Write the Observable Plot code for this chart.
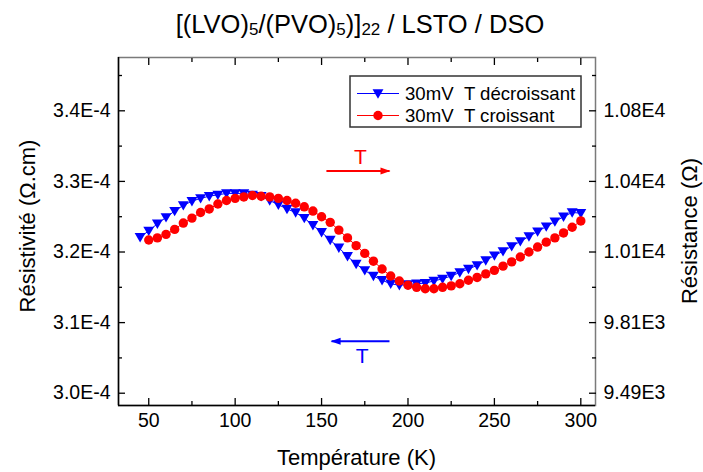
<!DOCTYPE html>
<html><head><meta charset="utf-8">
<script src="https://cdn.jsdelivr.net/npm/d3@7"></script>
<script src="https://cdn.jsdelivr.net/npm/@observablehq/plot@0.6"></script>
<style>
html,body{margin:0;padding:0;background:#fff;}
#chart{width:703px;height:472px;}
svg text{font-family:"Liberation Sans", Arial, sans-serif;}
</style></head><body><div id="chart"></div>
<script>
// ---- data (resistivity in units of 1E-4 Ω.cm) ----
const tempDown = [45,50,55,60,65,70,75,80,85,90,95,100,105,110,115,120,125,130,135,140,145,150,155,160,165,170,175,180,185,190,195,200,205,210,215,220,225,230,235,240,245,250,255,260,265,270,275,280,285,290,295,300];
const rhoDown = [3.221,3.230,3.240,3.249,3.258,3.266,3.272,3.276,3.279,3.281,3.283,3.283,3.283,3.281,3.279,3.273,3.267,3.261,3.256,3.248,3.238,3.228,3.217,3.206,3.194,3.183,3.174,3.166,3.160,3.155,3.153,3.154,3.155,3.156,3.159,3.162,3.166,3.171,3.176,3.181,3.188,3.195,3.201,3.208,3.215,3.222,3.229,3.236,3.243,3.250,3.256,3.255];
const tempUp = [50,55,60,65,70,75,80,85,90,95,100,105,110,115,120,125,130,135,140,145,150,155,160,165,170,175,180,185,190,195,200,205,210,215,220,225,230,235,240,245,250,255,260,265,270,275,280,285,290,295,300];
const rhoUp = [3.217,3.220,3.225,3.232,3.241,3.248,3.256,3.261,3.268,3.273,3.276,3.278,3.280,3.279,3.278,3.276,3.273,3.269,3.264,3.258,3.250,3.242,3.231,3.220,3.209,3.198,3.187,3.176,3.166,3.159,3.153,3.150,3.148,3.148,3.150,3.152,3.155,3.160,3.164,3.169,3.174,3.180,3.186,3.193,3.200,3.207,3.214,3.220,3.227,3.235,3.244];
const seriesNames = ["30mV\u00a0\u00a0T décroissant", "30mV\u00a0\u00a0T croissant"];
const seriesColors = ["#0000ff", "#ff0000"];
const xMajor = [50,100,150,200,250,300];
const xMinor = [75,125,175,225,275];
const yMajor = [3.0,3.1,3.2,3.3,3.4];
const yMinor = [3.05,3.15,3.25,3.35,3.45];
const rightLabels = ["9.49E3","9.81E3","1.01E4","1.04E4","1.08E4"];
const arrowStart = [152.8, 189.3];
const arrowEnd = [189.3, 155.8];
const arrowRho = [3.3146, 3.0737];
const arrowLabelT = [172.4, 173.5];
const arrowLabelRho = [3.3348, 3.0527];

const W = 703, H = 472;
const xDomain = [32.5, 308.5];
const yDomain = [2.9826, 3.4755];

const down = tempDown.map((t, i) => ({t, r: rhoDown[i]}));
const up = tempUp.map((t, i) => ({t, r: rhoUp[i]}));
const arrows = arrowStart.map((a, i) => ({x1: a, x2: arrowEnd[i], y: arrowRho[i], color: seriesColors[1 - i]}));
const arrowLabels = arrowLabelT.map((t, i) => ({t, r: arrowLabelRho[i], color: seriesColors[1 - i]}));

const downTriangle = {draw(ctx, size) {
  const r = Math.sqrt(size / Math.PI);
  ctx.moveTo(-r * 1.05, -r * 0.8);
  ctx.lineTo(r * 1.05, -r * 0.8);
  ctx.lineTo(0, r);
  ctx.closePath();
}};
const headRight = {draw(ctx) { ctx.moveTo(-9, -3.5); ctx.lineTo(1, 0); ctx.lineTo(-9, 3.5); ctx.closePath(); }};
const headLeft = {draw(ctx) { ctx.moveTo(9, -3.5); ctx.lineTo(-1, 0); ctx.lineTo(9, 3.5); ctx.closePath(); }};

const tickOpts = {label: null, fontSize: 19.5};
const blank = () => "";
const chart = Plot.plot({
  width: W, height: H,
  marginLeft: 118, marginRight: 108, marginTop: 57, marginBottom: 67,
  x: {domain: xDomain},
  y: {domain: yDomain},
  style: {fontFamily: "Liberation Sans, Arial, sans-serif", fontSize: "19.5px", color: "#000", background: "#fff"},
  marks: [
    Plot.frame({stroke: "#7a7a7a", strokeWidth: 1.5}),
    Plot.ruleX([xDomain[0]], {stroke: "#000", strokeWidth: 1.5}),
    Plot.ruleY([yDomain[0]], {stroke: "#000", strokeWidth: 1.5}),
    // tick labels
    Plot.axisX(xMajor, {...tickOpts, anchor: "bottom", tickSize: 0, tickPadding: 8, tickFormat: d => String(d)}),
    Plot.axisY(yMajor, {...tickOpts, anchor: "left", tickSize: 0, tickPadding: 8, tickFormat: d => d.toFixed(1) + "E-4"}),
    Plot.axisY(yMajor, {...tickOpts, anchor: "right", tickSize: 0, tickPadding: 8, tickFormat: d => rightLabels[yMajor.indexOf(d)]}),
    // inward ticks (outward tick shifted inside by its own length)
    Plot.axisX(xMajor, {label: null, anchor: "bottom", tickSize: 7, dy: -7, tickFormat: blank, strokeWidth: 1.3}),
    Plot.axisX(xMinor, {label: null, anchor: "bottom", tickSize: 4, dy: -4, tickFormat: blank, strokeWidth: 1.3}),
    Plot.axisX(xMajor, {label: null, anchor: "top", tickSize: 7, dy: 7, tickFormat: blank, strokeWidth: 1.3}),
    Plot.axisX(xMinor, {label: null, anchor: "top", tickSize: 4, dy: 4, tickFormat: blank, strokeWidth: 1.3}),
    Plot.axisY(yMajor, {label: null, anchor: "left", tickSize: 7, dx: 7, tickFormat: blank, strokeWidth: 1.3}),
    Plot.axisY(yMinor, {label: null, anchor: "left", tickSize: 4, dx: 4, tickFormat: blank, strokeWidth: 1.3}),
    Plot.axisY(yMajor, {label: null, anchor: "right", tickSize: 7, dx: -7, tickFormat: blank, strokeWidth: 1.3}),
    Plot.axisY(yMinor, {label: null, anchor: "right", tickSize: 4, dx: -4, tickFormat: blank, strokeWidth: 1.3}),
    // data
    Plot.line(down, {x: "t", y: "r", stroke: seriesColors[0], strokeWidth: 1}),
    Plot.dot(down, {x: "t", y: "r", symbol: downTriangle, r: 5.2, fill: seriesColors[0], stroke: "none"}),
    Plot.line(up, {x: "t", y: "r", stroke: seriesColors[1], strokeWidth: 1}),
    Plot.dot(up, {x: "t", y: "r", r: 4.7, fill: seriesColors[1], stroke: "none"}),
    // direction arrows
    Plot.link(arrows, {x1: "x1", x2: "x2", y1: "y", y2: "y", stroke: d => d.color, strokeWidth: 2}),
    Plot.dot([arrows[0]], {x: "x2", y: "y", symbol: headRight, fill: d => d.color, stroke: "none"}),
    Plot.dot([arrows[1]], {x: "x2", y: "y", symbol: headLeft, fill: d => d.color, stroke: "none"}),
    Plot.text(arrowLabels, {x: "t", y: "r", text: () => "T", fill: d => d.color, fontSize: 21})
  ]
});
document.getElementById("chart").appendChild(chart);

const svg = d3.select(chart);
const font = "Liberation Sans, Arial, sans-serif";
// title
const title = svg.append("text").attr("x", 360).attr("y", 33).attr("text-anchor", "middle")
  .attr("font-size", 25.5).attr("font-family", font).attr("fill", "#000");
const sub = (txt) => title.append("tspan").attr("font-size", 17).attr("dy", 2).text(txt);
const norm = (txt) => title.append("tspan").attr("font-size", 25.5).attr("dy", -2).text(txt);
title.append("tspan").text("[(LVO)");
sub("5"); norm("/(PVO)"); sub("5"); norm(")]"); sub("22"); norm(" / LSTO / DSO");
// axis labels
svg.append("text").attr("x", 356.5).attr("y", 465).attr("text-anchor", "middle")
  .attr("font-size", 22).attr("font-family", font).text("Température (K)");
svg.append("text").attr("transform", "translate(35,226) rotate(-90)").attr("text-anchor", "middle")
  .attr("font-size", 22).attr("font-family", font).text("Résistivité (Ω.cm)");
svg.append("text").attr("transform", "translate(697,231) rotate(-90)").attr("text-anchor", "middle")
  .attr("font-size", 22).attr("font-family", font).text("Résistance (Ω)");
// legend
const lg = svg.append("g");
lg.append("rect").attr("x", 350).attr("y", 76).attr("width", 231).attr("height", 51)
  .attr("fill", "#fff").attr("stroke", "#333").attr("stroke-width", 1.5);
seriesNames.forEach((name, i) => {
  const cy = 93.5 + i * 22;
  lg.append("line").attr("x1", 357).attr("x2", 399).attr("y1", cy).attr("y2", cy)
    .attr("stroke", seriesColors[i]).attr("stroke-width", 1);
  const sym = i === 0 ? d3.symbol().type(downTriangle).size(Math.PI * 27)() : d3.symbol().type(d3.symbolCircle).size(Math.PI * 4.7 * 4.7)();
  lg.append("path").attr("d", sym).attr("transform", `translate(378,${cy})`).attr("fill", seriesColors[i]);
  lg.append("text").attr("x", 405).attr("y", cy + 6.5).attr("text-anchor", "start").attr("font-size", 18.6)
    .attr("font-family", font).attr("fill", "#000").text(name);
});
</script></body></html>
